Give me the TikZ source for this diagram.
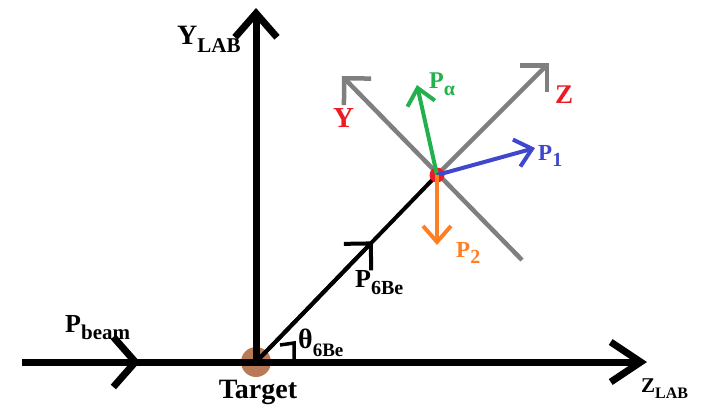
\documentclass[tikz,border=0pt]{standalone}
\usepackage{fontspec}
\setmainfont{Liberation Serif}
\usepackage{tikz}
\usetikzlibrary{arrows.meta,calc}
\definecolor{tbrown}{HTML}{B97A57}
\definecolor{vred}{HTML}{ED1C24}
\definecolor{pgreen}{HTML}{22B14C}
\definecolor{pblue}{HTML}{3F48CC}
\definecolor{porange}{HTML}{FF7F27}
\definecolor{fgray}{HTML}{7F7F7F}
\newcommand{\subs}[2][20]{\raisebox{-0.3em}{\fontsize{#1}{#1}\selectfont #2}}

\begin{document}
\begin{tikzpicture}[x=1pt, y=-1pt,
  axis/.style={line width=7pt},
  diag/.style={line width=4pt},
  frame/.style={line width=4.5pt, fgray},
  mom/.style={line width=4pt, -{Straight Barb[length=16pt,width=28pt]}},
  lbl/.style={inner sep=0pt, anchor=base west, font=\bfseries\fontsize{#1}{#1}\selectfont},
  lbl/.default=26]
\useasboundingbox (0,0) rectangle (704,410);
% target and lab axes
\node[circle, fill=tbrown, minimum size=30pt, inner sep=0pt] (tgt) at (256,362) {};
\coordinate (bstart) at (22,362);
\coordinate (bmid) at (140,362);
\coordinate (zend) at (647,362);
\coordinate (yend) at (256,8);
\draw[axis, -{Straight Barb[length=30pt,width=40pt]}] (bstart) -- (zend);
\draw[axis, -{Straight Barb[length=22pt,width=50pt]}] (bstart) -- (bmid);
\draw[axis, -{Straight Barb[length=24pt,width=42pt]}] (tgt.center) -- (yend);
% rotated frame at the vertex
\coordinate (vtx) at (437,175);
\coordinate (ytip) at (342,76);
\coordinate (ybot) at (522,260);
\coordinate (ztip) at (549,63);
\draw[frame, -{Straight Barb[length=19pt,width=38pt]}] (ybot) -- (ytip);
\draw[frame, -{Straight Barb[length=19pt,width=38pt]}] (vtx) -- (ztip);
% 6Be momentum
\coordinate (pmid) at ($(tgt.center)!0.645!(vtx)$);
\draw[diag] (tgt.center) -- (vtx);
\draw[diag, -{Straight Barb[length=19pt,width=38pt]}] (tgt.center) -- (pmid);
\draw[line width=3.5pt] (280,345) -- (294,343) -- (294,360);
\node[circle, fill=vred, minimum size=15pt, inner sep=0pt] (dot) at (vtx) {};
% decay products
\coordinate (atip) at (417,85);
\coordinate (p1tip) at (535,148);
\coordinate (p2tip) at (437,245);
\draw[mom, pgreen] (dot.center) -- (atip);
\draw[mom, pblue] (dot.center) -- (p1tip);
\draw[mom, porange] (dot.center) -- (p2tip);
% labels
\node[lbl=28] (ylab) at (177,44) {Y\subs[21]{LAB}};
\node[lbl=21] (zlab) at (641,392) {Z\subs[16]{LAB}};
\node[lbl] (pbeam) at (65,332) {P\subs[21]{beam}};
\node[inner sep=0pt, anchor=base, font=\bfseries\fontsize{28}{28}\selectfont] (tname) at (258,398) {Target};
\node[lbl=28] (theta) at (298,348) {θ\subs[19]{6Be}};
\node[lbl] (p6be) at (355,287) {P\subs[20]{6Be}};
\node[lbl=29, text=vred] (yfr) at (333,127) {Y};
\node[lbl=27, text=vred] (zfr) at (555,103) {Z};
\node[lbl=24, text=pgreen] (pa) at (429,88) {P\subs[20]{α}};
\node[lbl=23, text=pblue] (p1) at (538,160) {P\subs[20]{1}};
\node[lbl=23, text=porange] (p2) at (456,257) {P\subs[20]{2}};
\end{tikzpicture}
\end{document}
